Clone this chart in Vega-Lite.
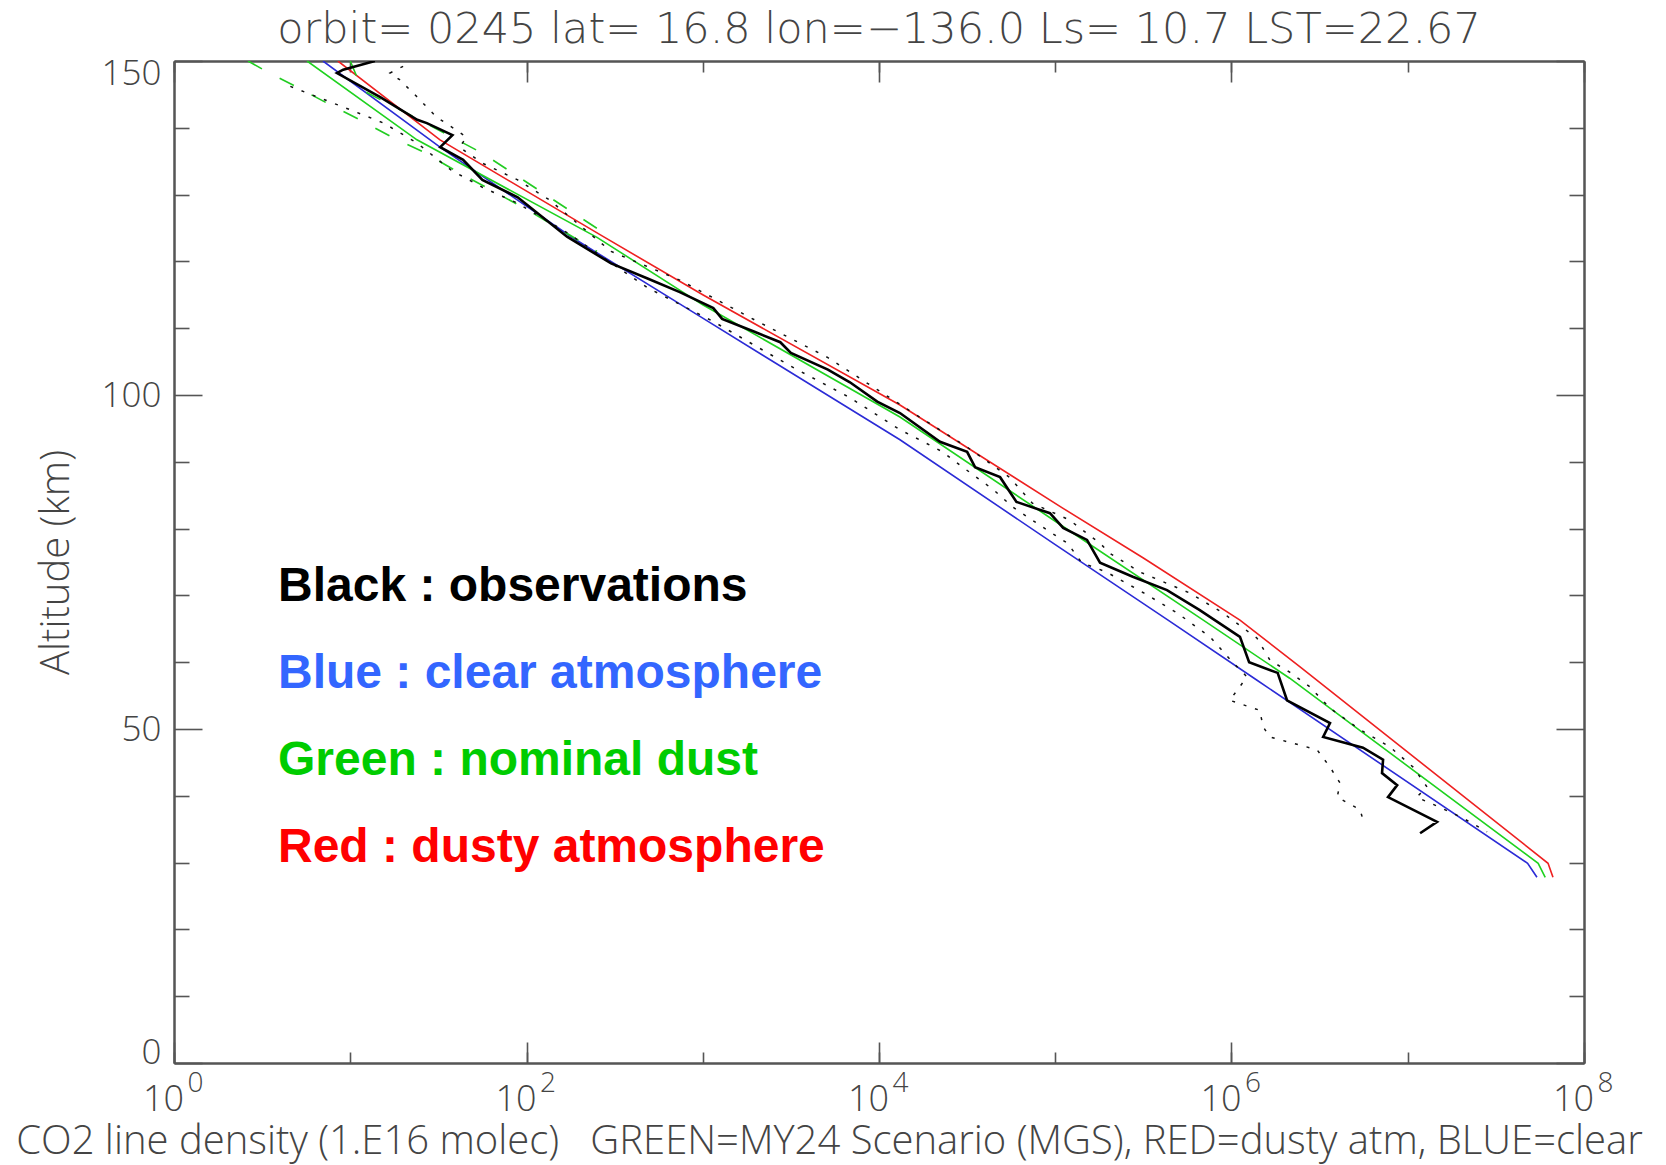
{
  "$schema": "https://vega.github.io/schema/vega-lite/v6.json",
  "width": 1410,
  "height": 1002,
  "autosize": {"type": "none"},
  "padding": {"left": 174, "top": 61, "right": 82, "bottom": 102},
  "background": "white",
  "title": {
    "text": "orbit= 0245 lat= 16.8 lon=−136.0 Ls= 10.7 LST=22.67",
    "anchor": "middle",
    "font": "DejaVu Sans",
    "fontWeight": 200,
    "fontSize": 43,
    "color": "#444444",
    "offset": 4
  },
  "config": {
    "view": {"stroke": null},
    "axis": {
      "grid": false,
      "domainColor": "#555555",
      "domainWidth": 2,
      "tickColor": "#555555",
      "tickWidth": 1.6,
      "labelFont": "Open Sans",
      "labelFontWeight": 300,
      "labelColor": "#444444",
      "titleFont": "Open Sans",
      "titleFontWeight": 300,
      "titleColor": "#444444",
      "labelFlush": false,
      "labelOverlap": false
    }
  },
  "datasets": {
    "prof": [
      {"s": "Blue : clear atmosphere", "x": 7.0, "alt": 150},
      {"s": "Blue : clear atmosphere", "x": 32.3, "alt": 137.1},
      {"s": "Blue : clear atmosphere", "x": 183.7, "alt": 123.5},
      {"s": "Blue : clear atmosphere", "x": 1000, "alt": 111.5},
      {"s": "Blue : clear atmosphere", "x": 13150, "alt": 93.3},
      {"s": "Blue : clear atmosphere", "x": 100000, "alt": 77.6},
      {"s": "Blue : clear atmosphere", "x": 436500, "alt": 66.3},
      {"s": "Blue : clear atmosphere", "x": 1396000, "alt": 57.3},
      {"s": "Blue : clear atmosphere", "x": 47860000, "alt": 29.9},
      {"s": "Blue : clear atmosphere", "x": 54080000, "alt": 27.8},

      {"s": "Red : dusty atmosphere", "x": 8.51, "alt": 150},
      {"s": "Red : dusty atmosphere", "x": 32.3, "alt": 138.2},
      {"s": "Red : dusty atmosphere", "x": 261.2, "alt": 124},
      {"s": "Red : dusty atmosphere", "x": 1000, "alt": 115.0},
      {"s": "Red : dusty atmosphere", "x": 13150, "alt": 98.5},
      {"s": "Red : dusty atmosphere", "x": 109650, "alt": 83.1},
      {"s": "Red : dusty atmosphere", "x": 316200, "alt": 75.6},
      {"s": "Red : dusty atmosphere", "x": 1117000, "alt": 66.3},
      {"s": "Red : dusty atmosphere", "x": 2449000, "alt": 59.3},
      {"s": "Red : dusty atmosphere", "x": 62520000, "alt": 29.9},
      {"s": "Red : dusty atmosphere", "x": 66680000, "alt": 27.8},

      {"s": "Green : nominal dust", "x": 5.69, "alt": 150},
      {"s": "Green : nominal dust", "x": 23.9, "alt": 138.2},
      {"s": "Green : nominal dust", "x": 251.2, "alt": 123.6},
      {"s": "Green : nominal dust", "x": 1000, "alt": 113.5},
      {"s": "Green : nominal dust", "x": 13150, "alt": 96.7},
      {"s": "Green : nominal dust", "x": 100000, "alt": 81.1},
      {"s": "Green : nominal dust", "x": 691800, "alt": 66.3},
      {"s": "Green : nominal dust", "x": 2138000, "alt": 57.6},
      {"s": "Green : nominal dust", "x": 54950000, "alt": 29.9},
      {"s": "Green : nominal dust", "x": 60260000, "alt": 27.8},

      {"s": "Black : observations", "x": 13.8, "alt": 150},
      {"s": "Black : observations", "x": 9.12, "alt": 148.7},
      {"s": "Black : observations", "x": 8.41, "alt": 148.2},
      {"s": "Black : observations", "x": 14.8, "alt": 144.6},
      {"s": "Black : observations", "x": 24.0, "alt": 141.2},
      {"s": "Black : observations", "x": 27.2, "alt": 140.7},
      {"s": "Black : observations", "x": 38.0, "alt": 138.9},
      {"s": "Black : observations", "x": 32.4, "alt": 137.1},
      {"s": "Black : observations", "x": 43.7, "alt": 135.2},
      {"s": "Black : observations", "x": 56.2, "alt": 132.2},
      {"s": "Black : observations", "x": 89.1, "alt": 129.6},
      {"s": "Black : observations", "x": 169.8, "alt": 123.7},
      {"s": "Black : observations", "x": 302, "alt": 119.7},
      {"s": "Black : observations", "x": 490, "alt": 117.4},
      {"s": "Black : observations", "x": 741, "alt": 115.4},
      {"s": "Black : observations", "x": 1148, "alt": 113.0},
      {"s": "Black : observations", "x": 1288, "alt": 111.4},
      {"s": "Black : observations", "x": 1950, "alt": 109.5},
      {"s": "Black : observations", "x": 2754, "alt": 107.9},
      {"s": "Black : observations", "x": 3162, "alt": 106.3},
      {"s": "Black : observations", "x": 5129, "alt": 103.8},
      {"s": "Black : observations", "x": 6839, "alt": 101.9},
      {"s": "Black : observations", "x": 9772, "alt": 99.0},
      {"s": "Black : observations", "x": 13150, "alt": 97.3},
      {"s": "Black : observations", "x": 22180, "alt": 93.0},
      {"s": "Black : observations", "x": 31620, "alt": 91.5},
      {"s": "Black : observations", "x": 35080, "alt": 89.2},
      {"s": "Black : observations", "x": 48640, "alt": 87.7},
      {"s": "Black : observations", "x": 60260, "alt": 84.0},
      {"s": "Black : observations", "x": 93330, "alt": 82.3},
      {"s": "Black : observations", "x": 110900, "alt": 80.1},
      {"s": "Black : observations", "x": 151400, "alt": 78.3},
      {"s": "Black : observations", "x": 179500, "alt": 74.9},
      {"s": "Black : observations", "x": 275400, "alt": 72.8},
      {"s": "Black : observations", "x": 430500, "alt": 70.8},
      {"s": "Black : observations", "x": 660700, "alt": 67.8},
      {"s": "Black : observations", "x": 1117000, "alt": 63.8},
      {"s": "Black : observations", "x": 1259000, "alt": 60.0},
      {"s": "Black : observations", "x": 1828000, "alt": 58.4},
      {"s": "Black : observations", "x": 2065000, "alt": 54.3},
      {"s": "Black : observations", "x": 3622000, "alt": 50.9},
      {"s": "Black : observations", "x": 3311000, "alt": 48.8},
      {"s": "Black : observations", "x": 5572000, "alt": 47.2},
      {"s": "Black : observations", "x": 7244000, "alt": 45.4},
      {"s": "Black : observations", "x": 7145000, "alt": 43.4},
      {"s": "Black : observations", "x": 8710000, "alt": 41.6},
      {"s": "Black : observations", "x": 7727000, "alt": 39.8},
      {"s": "Black : observations", "x": 14660000, "alt": 36.1},
      {"s": "Black : observations", "x": 11750000, "alt": 34.4},

      {"s": "obs low", "x": 4.57, "alt": 146.2},
      {"s": "obs low", "x": 10, "alt": 142.7},
      {"s": "obs low", "x": 15.5, "alt": 140.7},
      {"s": "obs low", "x": 24.0, "alt": 137.7},
      {"s": "obs low", "x": 37.2, "alt": 133.7},
      {"s": "obs low", "x": 56.2, "alt": 131.1},
      {"s": "obs low", "x": 89.1, "alt": 128.7},
      {"s": "obs low", "x": 169.8, "alt": 124.3},
      {"s": "obs low", "x": 490, "alt": 116.0},
      {"s": "obs low", "x": 1148, "alt": 111.0},
      {"s": "obs low", "x": 3162, "alt": 104.3},
      {"s": "obs low", "x": 6839, "alt": 99.6},
      {"s": "obs low", "x": 13150, "alt": 94.8},
      {"s": "obs low", "x": 16980, "alt": 93.3},
      {"s": "obs low", "x": 22910, "alt": 91.5},
      {"s": "obs low", "x": 30200, "alt": 89.1},
      {"s": "obs low", "x": 44670, "alt": 85.8},
      {"s": "obs low", "x": 57540, "alt": 83.2},
      {"s": "obs low", "x": 85110, "alt": 80.2},
      {"s": "obs low", "x": 117500, "alt": 77.8},
      {"s": "obs low", "x": 141300, "alt": 74.9},
      {"s": "obs low", "x": 195000, "alt": 73.5},
      {"s": "obs low", "x": 316200, "alt": 70.4},
      {"s": "obs low", "x": 489800, "alt": 67.4},
      {"s": "obs low", "x": 755100, "alt": 63.8},
      {"s": "obs low", "x": 1023000, "alt": 59.9},
      {"s": "obs low", "x": 1225000, "alt": 57.8},
      {"s": "obs low", "x": 977200, "alt": 54.3},
      {"s": "obs low", "x": 1445000, "alt": 52.8},
      {"s": "obs low", "x": 1514000, "alt": 50.3},
      {"s": "obs low", "x": 1652000, "alt": 48.8},
      {"s": "obs low", "x": 3055000, "alt": 46.9},
      {"s": "obs low", "x": 3622000, "alt": 44.3},
      {"s": "obs low", "x": 4130000, "alt": 41.9},
      {"s": "obs low", "x": 3981000, "alt": 39.8},
      {"s": "obs low", "x": 5370000, "alt": 37.9},
      {"s": "obs low", "x": 5572000, "alt": 36.4},

      {"s": "obs high", "x": 19.95, "alt": 149.2},
      {"s": "obs high", "x": 16.8, "alt": 148.2},
      {"s": "obs high", "x": 19.05, "alt": 147.2},
      {"s": "obs high", "x": 24.0, "alt": 144.6},
      {"s": "obs high", "x": 27.2, "alt": 143.1},
      {"s": "obs high", "x": 30.9, "alt": 141.6},
      {"s": "obs high", "x": 39.8, "alt": 139.7},
      {"s": "obs high", "x": 45.7, "alt": 138.6},
      {"s": "obs high", "x": 41.7, "alt": 137.1},
      {"s": "obs high", "x": 56.2, "alt": 134.7},
      {"s": "obs high", "x": 89.1, "alt": 132.2},
      {"s": "obs high", "x": 134.9, "alt": 129.2},
      {"s": "obs high", "x": 302, "alt": 121.5},
      {"s": "obs high", "x": 741, "alt": 117.2},
      {"s": "obs high", "x": 1950, "alt": 111.3},
      {"s": "obs high", "x": 5129, "alt": 105.6},
      {"s": "obs high", "x": 9772, "alt": 100.8},
      {"s": "obs high", "x": 16980, "alt": 96.7},
      {"s": "obs high", "x": 31620, "alt": 92.2},
      {"s": "obs high", "x": 54950, "alt": 87.7},
      {"s": "obs high", "x": 74130, "alt": 83.8},
      {"s": "obs high", "x": 120200, "alt": 81.3},
      {"s": "obs high", "x": 179500, "alt": 77.8},
      {"s": "obs high", "x": 204200, "alt": 76.3},
      {"s": "obs high", "x": 302000, "alt": 73.5},
      {"s": "obs high", "x": 575400, "alt": 70.4},
      {"s": "obs high", "x": 891300, "alt": 67.4},
      {"s": "obs high", "x": 1396000, "alt": 63.6},
      {"s": "obs high", "x": 1652000, "alt": 60.3},
      {"s": "obs high", "x": 2138000, "alt": 58.5},
      {"s": "obs high", "x": 2786000, "alt": 56.3},
      {"s": "obs high", "x": 3622000, "alt": 53.1},
      {"s": "obs high", "x": 5370000, "alt": 49.9},
      {"s": "obs high", "x": 7943000, "alt": 47.3},
      {"s": "obs high", "x": 10720000, "alt": 44.3},
      {"s": "obs high", "x": 12880000, "alt": 41.3},
      {"s": "obs high", "x": 11220000, "alt": 39.8},
      {"s": "obs high", "x": 15140000, "alt": 38.3},
      {"s": "obs high", "x": 20420000, "alt": 36.7},
      {"s": "obs high", "x": 28180000, "alt": 34.6},

      {"s": "nominal low", "x": 2.63, "alt": 150},
      {"s": "nominal low", "x": 3.37, "alt": 148.4},
      {"s": "nominal low", "x": 4.73, "alt": 146.4},
      {"s": "nominal low", "x": 7.38, "alt": 143.7},
      {"s": "nominal low", "x": 11.35, "alt": 141.2},
      {"s": "nominal low", "x": 17.5, "alt": 138.5},
      {"s": "nominal low", "x": 25.9, "alt": 136.4},
      {"s": "nominal low", "x": 42.0, "alt": 133.2},
      {"s": "nominal low", "x": 100, "alt": 127.8},
      {"s": "nominal low", "x": 251.2, "alt": 121.5},

      {"s": "nominal high", "x": 10, "alt": 150},
      {"s": "nominal high", "x": 11.75, "alt": 145.6},
      {"s": "nominal high", "x": 20.9, "alt": 142.2},
      {"s": "nominal high", "x": 56.2, "alt": 136.2},
      {"s": "nominal high", "x": 263, "alt": 124.6}
    ]
  },
  "data": {"name": "prof"},
  "resolve": {"axis": {"x": "independent", "y": "independent"}},
  "layer": [
    {
      "transform": [{"filter": {"field": "s", "oneOf": ["Blue : clear atmosphere", "Green : nominal dust", "Red : dusty atmosphere"]}}],
      "mark": {"type": "line", "strokeWidth": 1.6, "clip": true},
      "encoding": {
        "x": {
          "field": "x", "type": "quantitative",
          "scale": {"type": "log", "domain": [1, 100000000], "nice": false},
          "axis": {
            "orient": "bottom",
            "values": [1, 100, 10000, 1000000, 100000000],
            "tickSize": -21,
            "labelExpr": "'10'",
            "labelFontSize": 36,
            "labelPadding": 40,
            "labelAlign": "center",
            "labelOffset": -11,
            "labelBaseline": "top",
            "title": "CO2 line density (1.E16 molec)\u00a0\u00a0 GREEN=MY24 Scenario (MGS), RED=dusty atm, BLUE=clear",
            "titleFontSize": 40,
            "titleX": 655,
            "titleY": 90,
            "titleAlign": "center",
            "titleBaseline": "alphabetic",
            "titleAngle": 0
          }
        },
        "y": {
          "field": "alt", "type": "quantitative",
          "scale": {"domain": [0, 150], "nice": false},
          "axis": {
            "orient": "left",
            "values": [0, 50, 100, 150],
            "tickSize": -28,
            "labelFontSize": 35,
            "labelPadding": 41,
            "labelBaseline": "middle",
            "labelOffset": {"condition": [{"test": "datum.value === 150", "value": 12}, {"test": "datum.value === 0", "value": -11}], "value": 0},
            "title": "Altitude (km)",
            "titleFontSize": 40,
            "titleX": -106,
            "titleY": 501,
            "titleAngle": -90,
            "titleAlign": "center",
            "titleBaseline": "alphabetic"
          }
        },
        "color": {
          "field": "s", "type": "nominal",
          "scale": {
            "domain": ["Black : observations", "Blue : clear atmosphere", "Green : nominal dust", "Red : dusty atmosphere"],
            "range": ["#000000", "#2b2bd6", "#1fd21f", "#ee2020"]
          },
          "legend": {
            "orient": "none",
            "legendX": 56,
            "legendY": 502,
            "title": null,
            "padding": 0,
            "symbolType": "circle",
            "symbolSize": 0,
            "symbolOpacity": 0,
            "symbolStrokeWidth": 0,
            "labelOffset": 0,
            "labelFont": "Liberation Sans",
            "labelFontWeight": "bold",
            "labelFontSize": 48,
            "labelLimit": 2000,
            "rowPadding": 39,
            "encode": {
              "labels": {
                "update": {
                  "fill": {"signal": "datum.value === 'Blue : clear atmosphere' ? '#3366ff' : datum.value === 'Green : nominal dust' ? '#00cc00' : datum.value === 'Red : dusty atmosphere' ? '#ff0000' : '#000000'"}
                }
              }
            }
          }
        },
        "order": {"field": "alt", "sort": "descending"}
      }
    },
    {
      "transform": [{"filter": {"field": "s", "oneOf": ["nominal low", "nominal high"]}}],
      "mark": {"type": "line", "strokeWidth": 1.6, "strokeDash": [16, 20], "color": "#22cc22", "clip": true},
      "encoding": {
        "x": {
          "field": "x", "type": "quantitative",
          "axis": {
            "orient": "bottom",
            "values": [1, 10, 100, 1000, 10000, 100000, 1000000, 10000000, 100000000],
            "tickSize": -11,
            "labelExpr": "round(log(datum.value)/LN10) % 2 === 0 ? '' + round(log(datum.value)/LN10) : ''",
            "labelFontSize": 28,
            "labelPadding": 17,
            "labelAlign": "center",
            "labelOffset": 21,
            "labelBaseline": "top",
            "title": null
          }
        },
        "y": {
          "field": "alt", "type": "quantitative",
          "axis": {
            "orient": "left",
            "values": [10, 20, 30, 40, 60, 70, 80, 90, 110, 120, 130, 140],
            "tickSize": -15,
            "labels": false,
            "title": null
          }
        },
        "detail": {"field": "s"},
        "order": {"field": "alt", "sort": "descending"}
      }
    },
    {
      "transform": [{"filter": {"field": "s", "oneOf": ["obs low", "obs high"]}}],
      "mark": {"type": "line", "strokeWidth": 1.5, "strokeDash": [3, 9], "color": "#111111", "clip": true},
      "encoding": {
        "x": {
          "field": "x", "type": "quantitative",
          "axis": {
            "orient": "top",
            "values": [1, 100, 10000, 1000000, 100000000],
            "tickSize": -21,
            "labels": false,
            "title": null
          }
        },
        "y": {
          "field": "alt", "type": "quantitative",
          "axis": {
            "orient": "right",
            "values": [0, 50, 100, 150],
            "tickSize": -28,
            "labels": false,
            "title": null
          }
        },
        "detail": {"field": "s"},
        "order": {"field": "alt", "sort": "descending"}
      }
    },
    {
      "transform": [{"filter": {"field": "s", "equal": "Black : observations"}}],
      "mark": {"type": "line", "strokeWidth": 2.6, "clip": true},
      "encoding": {
        "x": {
          "field": "x", "type": "quantitative",
          "axis": {
            "orient": "top",
            "values": [1, 10, 100, 1000, 10000, 100000, 1000000, 10000000, 100000000],
            "tickSize": -11,
            "labels": false,
            "title": null
          }
        },
        "y": {
          "field": "alt", "type": "quantitative",
          "axis": {
            "orient": "right",
            "values": [10, 20, 30, 40, 60, 70, 80, 90, 110, 120, 130, 140],
            "tickSize": -15,
            "labels": false,
            "title": null
          }
        },
        "color": {"field": "s", "type": "nominal"},
        "order": {"field": "alt", "sort": "descending"}
      }
    }
  ]
}
